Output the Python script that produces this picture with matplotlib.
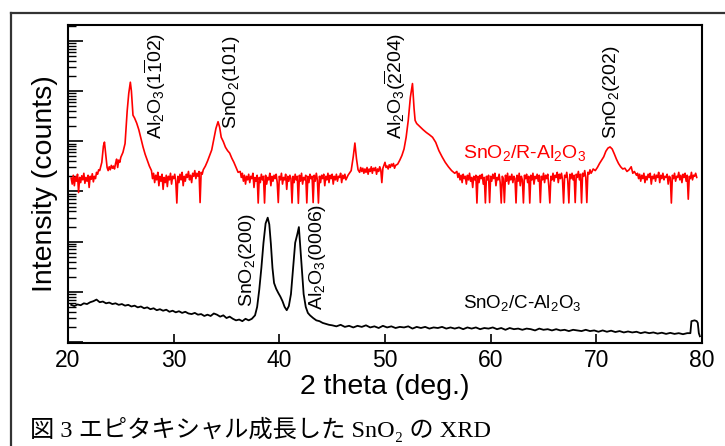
import matplotlib
matplotlib.use("Agg")
import matplotlib.pyplot as plt
from matplotlib.lines import Line2D
from matplotlib.ticker import LogLocator, NullFormatter, FixedLocator
import numpy as np

plt.rcParams['font.family'] = ['Liberation Sans', 'Noto Sans CJK JP']
plt.rcParams['mathtext.fontset'] = 'custom'
plt.rcParams['mathtext.rm'] = 'Liberation Sans'
plt.rcParams['mathtext.it'] = 'Liberation Sans:italic'
plt.rcParams['mathtext.bf'] = 'Liberation Sans:bold'

# SnO2 / R-Al2O3 (red, upper trace)
red_2theta = [
    20.3, 20.4, 20.5, 20.6, 20.7, 20.8, 20.9, 21.0, 21.1, 21.2,
    21.3, 21.4, 21.5, 21.6, 21.7, 21.8, 21.9, 22.0, 22.1, 22.2,
    22.3, 22.4, 22.5, 22.6, 22.7, 22.8, 22.9, 23.0,
    23.2, 23.35, 23.45, 23.55, 23.7, 23.8, 23.9, 24.0, 24.1, 24.2,
    24.3, 24.4, 24.5, 24.6, 24.7, 24.8, 24.9, 25.0, 25.2, 25.4,
    25.6, 25.75, 25.9, 26.0, 26.15, 26.3, 26.5, 26.7, 26.9, 27.1,
    27.3, 27.5, 27.7, 27.9,
    28.0, 28.1, 28.2, 28.3, 28.4, 28.5, 28.6, 28.7, 28.8, 28.9,
    29.0, 29.1, 29.2, 29.3, 29.4, 29.5, 29.6, 29.7, 29.8, 29.9,
    30.0, 30.1, 30.2, 30.3, 30.4, 30.5, 30.6, 30.7, 30.8, 30.9,
    31.0, 31.1, 31.2, 31.3, 31.4, 31.5, 31.6, 31.7, 31.8, 31.9,
    32.0, 32.1, 32.2, 32.3, 32.4, 32.5, 32.6, 32.7, 32.8,
    33.0, 33.2, 33.4, 33.6, 33.8, 34.0, 34.2, 34.35, 34.5, 34.7,
    34.9, 35.1, 35.3, 35.5, 35.7, 35.9, 36.1, 36.3,
    36.4, 36.5, 36.6, 36.7, 36.8, 36.9, 37.0, 37.1, 37.2, 37.3,
    37.4, 37.5, 37.6, 37.7, 37.8, 37.9, 38.0, 38.1, 38.2, 38.3,
    38.4, 38.5, 38.6, 38.7, 38.8, 38.9, 39.0, 39.1, 39.2, 39.3,
    39.4, 39.5, 39.6, 39.7, 39.8, 39.9, 40.0, 40.1, 40.2, 40.3,
    40.4, 40.5, 40.6, 40.7, 40.8, 40.9, 41.0, 41.1, 41.2, 41.3,
    41.4, 41.5, 41.6, 41.7, 41.8, 41.9, 42.0, 42.1, 42.2, 42.3,
    42.4, 42.5, 42.6, 42.7, 42.8, 42.9, 43.0, 43.1, 43.2, 43.3,
    43.4, 43.5, 43.6, 43.7, 43.8, 43.9, 44.0, 44.1, 44.2, 44.3,
    44.4, 44.5, 44.6, 44.7, 44.8, 44.9, 45.0, 45.1, 45.2, 45.3,
    45.4, 45.5, 45.6, 45.7, 45.8, 45.9, 46.0, 46.1, 46.2, 46.3,
    46.5, 46.8, 47.0, 47.15, 47.3, 47.45,
    47.6, 47.7, 47.8, 47.9, 48.0, 48.1, 48.2, 48.3, 48.4, 48.5,
    48.6, 48.7, 48.8, 48.9, 49.0, 49.1, 49.2, 49.3, 49.4, 49.5,
    49.6, 49.7, 49.8, 49.9, 50.0, 50.1, 50.2, 50.3, 50.4, 50.5,
    50.6, 50.7, 50.8, 50.9,
    51.0, 51.2, 51.4, 51.6, 51.8, 52.0, 52.2, 52.4, 52.6, 52.75,
    52.85, 53.0, 53.3, 53.6, 53.9, 54.2, 54.5, 54.8, 55.1, 55.4,
    55.7, 56.0, 56.3, 56.6,
    56.8, 56.9, 57.0, 57.1, 57.2, 57.3, 57.4, 57.5, 57.6, 57.7,
    57.8, 57.9, 58.0, 58.1, 58.2, 58.3, 58.4, 58.5, 58.6, 58.7,
    58.8, 58.9, 59.0, 59.1, 59.2, 59.3, 59.4, 59.5, 59.6, 59.7,
    59.8, 59.9, 60.0, 60.1, 60.2, 60.3, 60.4, 60.5, 60.6, 60.7,
    60.8, 60.9, 61.0, 61.1, 61.2, 61.3, 61.4, 61.5, 61.6, 61.7,
    61.8, 61.9, 62.0, 62.1, 62.2, 62.3, 62.4, 62.5, 62.6, 62.7,
    62.8, 62.9, 63.0, 63.1, 63.2, 63.3, 63.4, 63.5, 63.6, 63.7,
    63.8, 63.9, 64.0, 64.1, 64.2, 64.3, 64.4, 64.5, 64.6, 64.7,
    64.8, 64.9, 65.0, 65.1, 65.2, 65.3, 65.4, 65.5, 65.6, 65.7,
    65.8, 65.9, 66.0, 66.1, 66.2, 66.3, 66.4, 66.5, 66.6, 66.7,
    66.8, 66.9, 67.0, 67.1, 67.2, 67.3, 67.4, 67.5, 67.6, 67.7,
    67.8, 67.9, 68.0, 68.1, 68.2, 68.3, 68.4, 68.5, 68.6, 68.7,
    68.8, 68.9, 69.0, 69.1, 69.2, 69.3, 69.4, 69.5, 69.6, 69.7,
    69.9, 70.1, 70.3, 70.5, 70.7, 70.9, 71.1, 71.3, 71.5, 71.7,
    71.9, 72.1, 72.3, 72.5, 72.7, 72.9, 73.1, 73.3, 73.45, 73.6,
    73.8,
    73.9, 74.0, 74.1, 74.2, 74.3, 74.4, 74.5, 74.6, 74.7, 74.8,
    74.9, 75.0, 75.1, 75.2, 75.3, 75.4, 75.5, 75.6, 75.7, 75.8,
    75.9, 76.0, 76.1, 76.2, 76.3, 76.4, 76.5, 76.6, 76.7, 76.8,
    76.9, 77.0, 77.1, 77.2, 77.3, 77.4, 77.5, 77.6, 77.7, 77.8,
    77.9, 78.0, 78.1, 78.2, 78.3, 78.4, 78.5, 78.6, 78.7, 78.8,
    78.9, 79.0, 79.1, 79.2, 79.3, 79.4, 79.5,
]
red_counts = [
    1850, 1400, 2100, 1300, 1950, 1600, 2200, 950, 1900, 1500,
    2050, 1700, 2300, 1450, 1900, 1600, 2100, 1200, 2000, 1750,
    2250, 1550, 2000, 1800, 2400, 2200, 2700, 2600,
    3800, 8000, 9600, 6000, 3000, 2600, 3100, 2700, 3300, 2900,
    3200, 2800, 3600, 4400, 3000, 4200, 3800, 4800, 6000, 9000,
    40000, 90000, 150000, 100000, 33000, 29000, 23000, 17000, 11500, 7700,
    5500, 4200, 3200, 2600,
    1800, 2300, 1500, 2100, 1700, 2400, 1300, 2000, 1600, 2200,
    1100, 1900, 1500, 2100, 1250, 2000, 1700, 2300, 1400, 2000,
    1800, 2200, 1600, 587, 2000, 1500, 2200, 1700, 2400, 1300,
    2000, 1600, 2200, 1900, 2500, 1700, 2100, 1500, 2300, 2000,
    2600, 1800, 2300, 2000, 2500, 600, 2400, 2200, 2700,
    3200, 4000, 5200, 6700, 11000, 18000, 24500, 19000, 12000, 9800,
    7600, 6500, 5800, 4600, 3800, 3000, 2400, 2500,
    1900, 2300, 1600, 2100, 1400, 2000, 1700, 2200, 1500, 2000,
    1800, 2300, 1200, 1900, 1600, 2100, 587, 1900, 1500, 2200,
    1700, 2000, 587, 2100, 1400, 1900, 1700, 2300, 1300, 2000,
    1600, 2100, 1800, 2200, 1500, 600, 2000, 1700, 2300, 1400,
    1900, 1700, 2200, 1100, 2000, 1600, 2100, 1800, 590, 2000,
    1500, 2200, 1700, 2000, 580, 2100, 1600, 2300, 1400, 1900,
    1700, 2100, 590, 2000, 1500, 2200, 1800, 2000, 600, 2100,
    1600, 2300, 1700, 587, 2000, 1500, 2100, 1800, 2200, 1300,
    2000, 1700, 2300, 1500, 2100, 1800, 2200, 1400, 2000, 1700,
    2200, 1600, 2000, 1900, 2300, 1500, 2100, 1800, 2200, 1700,
    2100, 2600, 5000, 9200, 4500, 2700,
    2400, 3000, 2500, 2900, 2300, 2800, 2400, 3000, 2200, 2800,
    2500, 3100, 2300, 2900, 2600, 3000, 2200, 2800, 2500, 3100,
    2700, 1500, 2900, 3300, 3800, 3000, 3200, 2800, 3400, 3000,
    3500, 3200, 3600, 2900,
    3300, 3500, 4200, 5200, 7000, 12000, 26000, 75000, 141000, 45000,
    26000, 22500, 19600, 17000, 15000, 13500, 12000, 9500, 6500, 4900,
    3800, 3100, 2600, 2300,
    2500, 1900, 2300, 1700, 2100, 1500, 2200, 1800, 2000, 1400,
    2100, 1700, 2300, 1600, 1900, 1200, 2000, 1700, 2100, 587,
    2000, 1500, 2100, 1800, 2200, 1400, 1900, 590, 2000, 1700,
    2100, 600, 2000, 1600, 2200, 1800, 2300, 1300, 1900, 1700,
    2200, 1500, 587, 2000, 1800, 600, 2100, 1600, 2300, 1400,
    2000, 1700, 2200, 1500, 2000, 1800, 590, 2100, 1600, 2300,
    1300, 2000, 1700, 590, 2100, 1800, 2200, 1500, 2000, 587,
    2100, 1700, 2300, 1400, 2000, 1800, 2200, 1600, 2100, 600,
    2000, 1700, 2300, 1500, 2100, 1800, 2200, 1300, 590, 2000,
    1700, 2300, 1600, 2100, 1900, 2400, 1500, 2200, 1800, 2300,
    1700, 587, 2100, 1900, 2400, 1600, 590, 2200, 1800, 2300,
    1700, 2100, 600, 2200, 1900, 2500, 1700, 2200, 590, 2300,
    2000, 2600, 1900, 600, 2400, 2200, 2700, 2300, 2500, 2800,
    2600, 3000, 3600, 4200, 4900, 6300, 7300, 7700, 7000, 5600,
    4400, 3600, 3100, 2800, 2900, 2500, 2700, 3100, 2300, 2500,
    2100,
    2300, 1800, 2200, 1600, 2100, 1800, 2300, 1500, 2000, 1700,
    2200, 1900, 2300, 1400, 2000, 1800, 2200, 1600, 2100, 1900,
    2400, 1500, 2100, 1800, 2300, 1700, 2000, 1900, 2200, 1400,
    2000, 1900, 587, 2100, 1800, 2300, 1600, 2000, 1900, 2400,
    1700, 2100, 1500, 2200, 1900, 2300, 1600, 2100, 700, 2000,
    1800, 2400, 1700, 2100, 2000, 2300, 1900,
]

# SnO2 / C-Al2O3 (black, lower trace)
black_2theta = [
    20.3, 20.6, 20.9, 21.2, 21.5, 21.8, 22.1, 22.4, 22.7, 23.0,
    23.3, 23.6, 23.9, 24.2, 24.5, 24.8, 25.1, 25.4, 25.7, 26.0,
    26.3, 26.6, 26.9, 27.2, 27.5, 27.8, 28.1, 28.4, 28.7, 29.0,
    29.3, 29.6, 29.9, 30.2, 30.5, 30.8, 31.1, 31.4, 31.7, 32.0,
    32.3, 32.6, 32.9, 33.2, 33.5, 33.8, 34.1, 34.4, 34.7, 35.0,
    35.3, 35.6, 35.9, 36.2, 36.5, 36.8, 37.1, 37.4, 37.7, 37.9,
    38.1, 38.3, 38.5, 38.7, 38.9, 39.05, 39.2, 39.35, 39.5, 39.7,
    39.9, 40.1, 40.3, 40.5, 40.7, 40.9, 41.1, 41.3, 41.5, 41.7,
    41.85, 42.0, 42.15, 42.3, 42.5, 42.7, 42.9, 43.2, 43.5, 43.8,
    44.1, 44.4, 44.7, 45.0, 45.4, 45.8, 46.2, 46.6, 47.0, 47.4,
    47.8, 48.2, 48.6, 49.0, 49.4, 49.8, 50.2, 50.6, 51.0, 51.4,
    51.8, 52.2, 52.6, 53.0, 53.4, 53.8, 54.2, 54.6, 55.0, 55.4,
    55.8, 56.2, 56.6, 57.0, 57.4, 57.8, 58.2, 58.6, 59.0, 59.4,
    59.8, 60.2, 60.6, 61.0, 61.4, 61.8, 62.2, 62.6, 63.0, 63.4,
    63.8, 64.2, 64.6, 65.0, 65.4, 65.8, 66.2, 66.6, 67.0, 67.4,
    67.8, 68.2, 68.6, 69.0, 69.4, 69.8, 70.2, 70.6, 71.0, 71.4,
    71.8, 72.2, 72.6, 73.0, 73.4, 73.8, 74.2, 74.6, 75.0, 75.4,
    75.8, 76.2, 76.6, 77.0, 77.4, 77.8, 78.2, 78.6, 78.9, 79.0,
    79.3, 79.5, 79.6, 79.7, 79.8,
]
black_counts = [
    5.5, 5.2, 5.6, 5.4, 5.9, 5.7, 6.2, 6.5, 7.0, 6.2,
    6.4, 5.9, 6.1, 5.7, 5.9, 5.5, 5.7, 5.3, 5.5, 5.1,
    5.3, 4.9, 5.1, 4.7, 4.9, 4.5, 4.7, 4.3, 4.5, 4.2,
    4.4, 4.0, 4.2, 3.9, 4.1, 3.8, 4.0, 3.7, 3.6, 3.8,
    3.5, 3.6, 3.3, 3.5, 3.3, 3.7, 3.5, 3.2, 3.4, 3.0,
    3.2, 2.9, 2.7, 2.8, 2.6, 2.9, 2.7, 2.9, 3.4, 5.0,
    11, 30, 95, 230, 300, 220, 90, 30, 15, 11.5,
    9.5, 8, 6.5, 5.0, 4.3, 5.2, 9, 30, 95, 140,
    195, 70, 25, 9, 5.0, 3.8, 3.4, 3.0, 2.7, 2.6,
    2.4, 2.3, 2.2, 2.15, 2.05, 2.2, 2.0, 2.1, 1.95, 2.1,
    2.0, 2.15, 1.95, 2.05, 1.9, 2.1, 1.95, 2.05, 1.9, 2.0,
    1.95, 2.05, 1.85, 2.0, 1.9, 2.0, 1.85, 1.95, 1.9, 2.0,
    1.85, 1.95, 1.85, 1.95, 1.8, 1.95, 1.85, 1.95, 1.8, 1.9,
    1.85, 1.95, 1.8, 1.9, 1.75, 1.9, 1.8, 1.85, 1.75, 1.85,
    1.8, 1.7, 1.85, 1.75, 1.8, 1.7, 1.8, 1.7, 1.75, 1.65,
    1.75, 1.7, 1.65, 1.75, 1.65, 1.7, 1.6, 1.7, 1.6, 1.68,
    1.58, 1.65, 1.55, 1.62, 1.55, 1.6, 1.5, 1.57, 1.5, 1.55,
    1.47, 1.53, 1.45, 1.52, 1.45, 1.5, 1.43, 1.5, 1.5, 2.6,
    2.7, 2.6, 2.4, 1.5, 1.3,
]

x_ticks = [20, 30, 40, 50, 60, 70, 80]

# peak labels: (text, 2theta, counts at bottom of label)
upper_peaks = [
    (r'Al$_2$O$_3$(1$\overline{1}$02)', 28.2, 11000),
    (r'SnO$_2$(101)', 35.5, 17500),
    (r'Al$_2$O$_3$($\overline{2}$204)', 51.0, 11000),
    (r'SnO$_2$(202)', 71.4, 11000),
]
lower_peaks = [
    (r'SnO$_2$(200)', 37.0, 5.0),
    (r'Al$_2$O$_3$(0006)', 43.65, 4.3),
]

fig = plt.figure(figsize=(7.25, 4.46), dpi=100)
ax = fig.add_axes([68 / 725, 1 - 343 / 446, 634 / 725, 318 / 446])

ax.plot(red_2theta, red_counts, color='#ff0000', lw=1.2)
ax.plot(black_2theta, black_counts, color='black', lw=1.3)

ax.set_yscale('log')
ax.set_xlim(20, 80)
ax.set_ylim(0.955, 2.07e6)

ax.xaxis.set_major_locator(FixedLocator(x_ticks))
ax.yaxis.set_major_locator(LogLocator(base=10, numticks=20))
ax.yaxis.set_minor_locator(LogLocator(base=10, subs=np.arange(2, 10), numticks=100))
ax.yaxis.set_major_formatter(NullFormatter())
ax.yaxis.set_minor_formatter(NullFormatter())

ax.tick_params(axis='x', which='major', direction='in', length=6.5, width=1.2,
               labelsize=16.5, pad=4, top=False)
ax.tick_params(axis='y', which='major', direction='in', length=11, width=1.2, right=False)
ax.tick_params(axis='y', which='minor', direction='in', length=5.5, width=1.0, right=False)
for s in ax.spines.values():
    s.set_linewidth(1.5)

ax.set_xlabel('2 theta (deg.)', fontsize=20.5, labelpad=2)
ax.set_ylabel('Intensity (counts)', fontsize=20.5, labelpad=4)

for txt, x, y in upper_peaks + lower_peaks:
    ax.text(x, y, txt, rotation=90, ha='center', va='bottom', fontsize=14)

ax.text(57.4, 4620, r'SnO$_2$/R-Al$_2$O$_3$', color='#ff0000', fontsize=14, va='baseline')
ax.text(57.4, 4.7, r'SnO$_2$/C-Al$_2$O$_3$', color='black', fontsize=13.5, va='baseline')

# outer frame of the figure panel
fig.add_artist(Line2D([11 / 725, 11 / 725], [0, 1 - 13 / 446], transform=fig.transFigure,
                      color='#333333', lw=1.6))
fig.add_artist(Line2D([11 / 725, 1], [1 - 13 / 446, 1 - 13 / 446], transform=fig.transFigure,
                      color='#333333', lw=1.6))

fig.text(30 / 725, 1 - 437 / 446, '図 3 エピタキシャル成長した SnO₂ の XRD',
         family=['Liberation Serif', 'Noto Sans CJK JP'], fontsize=17.5, va='baseline')

fig.savefig('out.png', dpi=100)
